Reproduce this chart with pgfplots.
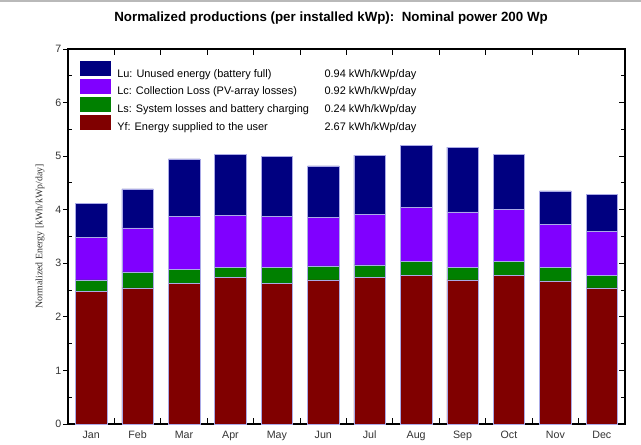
\documentclass[border=0pt]{standalone}
\usepackage{fontspec}
\setmainfont{Liberation Sans}
\newfontfamily\seriffont{Liberation Serif}
\usepackage{pgfplots}
\usepackage{pgfplotstable}
\pgfplotsset{compat=1.18}
\definecolor{cLu}{RGB}{0,0,128}
\definecolor{cLc}{RGB}{128,0,255}
\definecolor{cLs}{RGB}{0,128,0}
\definecolor{cYf}{RGB}{128,0,0}
\definecolor{edge}{RGB}{170,170,230}

\pgfplotstableread{
m Yf Ls Lc Lu
0 2.48 0.21 0.80 0.63
1 2.54 0.30 0.82 0.73
2 2.63 0.26 0.99 1.07
3 2.73 0.20 0.97 1.14
4 2.63 0.29 0.96 1.12
5 2.69 0.26 0.90 0.97
6 2.73 0.24 0.95 1.10
7 2.78 0.25 1.01 1.16
8 2.69 0.24 1.03 1.21
9 2.78 0.25 0.98 1.03
10 2.67 0.26 0.80 0.62
11 2.54 0.23 0.82 0.70
}\data

\pgfplotsset{
  common/.style={
    at={(51pt,15pt)}, anchor=south west,
    scale only axis, width=417.75pt, height=281.25pt,
    xmin=-0.5, xmax=11.5, ymin=0, ymax=7,
    tick style={line width=0.7pt, black},
  }
}

\begin{document}
\begin{tikzpicture}
\useasboundingbox (0pt,0pt) rectangle (480.75pt,333pt);
\draw[gray!55, line width=0.9pt] (0pt,332.3pt) -- (480.75pt,332.3pt);
\begin{axis}[
  common,
  ybar stacked, bar width=0.68,
  axis line style={line width=1.5pt},
  xtick={0.5,1.5,...,10.5}, xticklabels={}, xtick pos=both,
  extra x ticks={0,1,2,3,4,5,6,7,8,9,10,11},
  extra x tick labels={Jan,Feb,Mar,Apr,May,Jun,Jul,Aug,Sep,Oct,Nov,Dec},
  extra x tick style={major tick length=0pt, tick label style={yshift=-1.8pt}},
  ytick={0,1,...,7}, ytick pos=right, yticklabel pos=left,
  minor y tick num=1,
  tick align=inside, major tick length=4.5pt, minor tick length=3pt,
  /pgf/number format/assume math mode=true,
  ticklabel style={font=\fontsize{8}{9}\selectfont, text=black!80},
  yticklabel style={xshift=-1.5pt},
  ylabel={\seriffont\fontsize{7.4}{8}\selectfont Normalized Energy [kWh/kWp/day]},
  ylabel style={at={(axis description cs:-0.0503,0.5)}, anchor=center, text=black!80},
  title={\bfseries Normalized productions (per installed kWp):\ \ Nominal power 200 Wp},
  title style={font=\fontsize{10}{12}\selectfont, at={(axis description cs:0.5,1)}, anchor=center, yshift=17.5pt, xshift=-11.6pt},
  legend style={at={(axis description cs:0,1)}, anchor=north west, xshift=9pt, yshift=-9pt,
    draw=none, fill=none, inner sep=0pt, row sep=0pt, column sep=4.5pt,
    font=\fontsize{8.2}{9}\selectfont, nodes={inner sep=0pt}},
  legend cell align=left,
  legend image code/.code={\path[#1, draw=none] (0pt,-1.8pt) rectangle (23.25pt,9.6pt);},
  reverse legend,
]
\addplot[fill=cYf, draw=edge, line width=0.4pt] table[x=m,y=Yf]{\data};
\addlegendentry{\makebox[155.5pt][l]{Yf: Energy supplied to the user}2.67 kWh/kWp/day}
\addplot[fill=cLs, draw=edge, line width=0.4pt] table[x=m,y=Ls]{\data};
\addlegendentry{\makebox[155.5pt][l]{Ls: System losses and battery charging}0.24 kWh/kWp/day}
\addplot[fill=cLc, draw=edge, line width=0.4pt] table[x=m,y=Lc]{\data};
\addlegendentry{\makebox[155.5pt][l]{Lc: Collection Loss (PV-array losses)}0.92 kWh/kWp/day}
\addplot[fill=cLu, draw=edge, line width=0.4pt] table[x=m,y=Lu]{\data};
\addlegendentry{\makebox[155.5pt][l]{Lu: Unused energy (battery full)}0.94 kWh/kWp/day}
\end{axis}
\begin{axis}[
  common, axis line style={draw=none},
  xtick=\empty, ytick={0,1,...,7}, yticklabels={}, ytick pos=left,
  tick align=outside, major tick length=3.5pt,
]
\end{axis}
\begin{axis}[
  common, axis line style={draw=none},
  xtick=\empty, ytick={0.5,1.5,...,6.5}, yticklabels={}, ytick pos=left,
  tick align=inside, major tick length=3pt,
]
\end{axis}
\end{tikzpicture}
\end{document}
